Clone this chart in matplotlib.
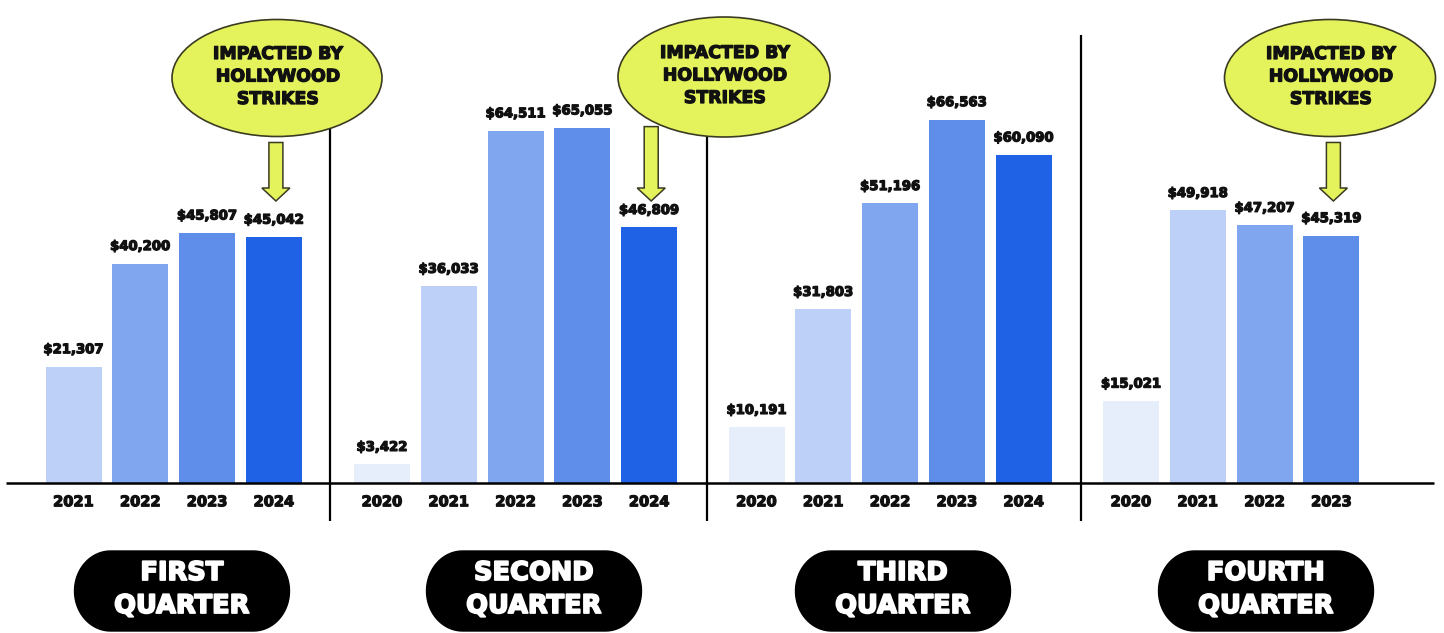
import numpy as np
import matplotlib
matplotlib.use("Agg")
import matplotlib.pyplot as plt
import matplotlib.patheffects as pe
from matplotlib.patches import Ellipse, Polygon

# quarterly box office figures, by year
q1_years = ['2021', '2022', '2023', '2024']
q1_values = [21307, 40200, 45807, 45042]
q2_years = ['2020', '2021', '2022', '2023', '2024']
q2_values = [3422, 36033, 64511, 65055, 46809]
q3_years = ['2020', '2021', '2022', '2023', '2024']
q3_values = [10191, 31803, 51196, 66563, 60090]
q4_years = ['2020', '2021', '2022', '2023']
q4_values = [15021, 49918, 47207, 45319]
quarter_names = ['FIRST\nQUARTER', 'SECOND\nQUARTER', 'THIRD\nQUARTER', 'FOURTH\nQUARTER']
strike_years = ['2024', '2024', None, '2023']
strike_note = ['IMPACTED BY', 'HOLLYWOOD', 'STRIKES']

year_colors = {'2020': '#e6eefc', '2021': '#bcd0f8', '2022': '#80a6ef',
               '2023': '#5e8dea', '2024': '#1f62e6'}

W, H = 1444, 633
BASE = 483          # baseline, px from top
SCALE = 0.00546     # px per dollar
STEP, BAR_W = 66.8, 56
group_x0 = [73.5, 382, 756.5, 1131]
dividers = [330, 707, 1081]
pill_cx = [182, 534, 903, 1266]
bubble = {0: (277, 78, 210, 117), 1: (724, 77, 212, 120), 3: (1330, 78, 211, 117)}
YELLOW = '#e4f35c'
EDGE = '#3b3b22'
FONT = 'DejaVu Sans'
INK = '#111111'


def heavy(w, c):
    # fake a black weight by stroking the glyph outline
    return [pe.withStroke(linewidth=w, foreground=c)]


def stadium(cx, cy, w, h, rx):
    # rectangle with elliptical caps on both ends
    ry = h / 2
    t = np.linspace(-np.pi / 2, np.pi / 2, 40)
    right = np.column_stack([cx + w / 2 - rx + rx * np.cos(t), cy + ry * np.sin(t)])
    left = np.column_stack([cx - w / 2 + rx - rx * np.cos(t), cy - ry * np.sin(t)])
    return np.vstack([right, left])


fig = plt.figure(figsize=(W / 100, H / 100), dpi=100)
fig.patch.set_facecolor('white')

# bars live in dollar space, decorations in pixel space
ax = fig.add_axes([0, 0, 1, 1])
ax.set_xlim(0, W)
ax.set_ylim(-(H - BASE) / SCALE, BASE / SCALE)
ax.axis('off')

ov = fig.add_axes([0, 0, 1, 1], zorder=3)
ov.set_xlim(0, W)
ov.set_ylim(H, 0)
ov.axis('off')
ov.patch.set_alpha(0)

groups = [(q1_years, q1_values), (q2_years, q2_values),
          (q3_years, q3_values), (q4_years, q4_values)]

for g, (years, values) in enumerate(groups):
    xs = group_x0[g] + STEP * np.arange(len(years))
    ax.bar(xs, values, width=BAR_W, color=[year_colors[y] for y in years],
           zorder=2)
    for x, v, y in zip(xs, values, years):
        ax.annotate(f'${v:,}', (x, v), xytext=(0, 7.5), textcoords='offset points',
                    ha='center', va='bottom', fontsize=9.5, fontweight='bold',
                    family=FONT, color=INK, path_effects=heavy(0.9, INK))
        ax.annotate(y, (x, 0), xytext=(0, -13.5), textcoords='offset points',
                    ha='center', va='center', fontsize=10.5, fontweight='bold',
                    family=FONT, color=INK, path_effects=heavy(0.9, INK))

    # quarter pill
    ov.add_patch(Polygon(stadium(pill_cx[g], 591, 215, 80, 36), closed=True,
                         facecolor='black', edgecolor='black', lw=1, zorder=4))
    top, bottom = quarter_names[g].split('\n')
    for ty, word in ((573, top), (606, bottom)):
        ov.text(pill_cx[g], ty, word, ha='center', va='center', color='white',
                fontsize=18.5, fontweight='bold', family=FONT, zorder=5,
                path_effects=heavy(1.3, 'white'))

    # strike callout
    if strike_years[g] is not None:
        cx, cy, ew, eh = bubble[g]
        ov.add_patch(Ellipse((cx, cy), ew, eh, facecolor=YELLOW, edgecolor=EDGE,
                             lw=1.2, zorder=4))
        for k, line in enumerate(strike_note):
            ov.text(cx + 1, cy - 24 + 22.5 * k, line, ha='center', va='center',
                    fontsize=12.5, fontweight='bold', family=FONT,
                    color=INK, zorder=5, path_effects=heavy(0.9, INK))
        ax_x = xs[years.index(strike_years[g])] + 2
        dx = (ax_x - cx) / (ew / 2)
        a_top = cy + eh / 2 * np.sqrt(max(0.0, 1 - dx ** 2)) + 6
        shaft, head, neck, tip = 7, 14, 188, 201
        ov.add_patch(Polygon([(ax_x - shaft, a_top), (ax_x + shaft, a_top),
                              (ax_x + shaft, neck), (ax_x + head, neck),
                              (ax_x, tip), (ax_x - head, neck),
                              (ax_x - shaft, neck)], closed=True,
                             facecolor=YELLOW, edgecolor=EDGE, lw=1.1, zorder=4))

# baseline and quarter dividers
ov.plot([6, 1434], [BASE, BASE], color='black', lw=1.8, zorder=2,
        solid_capstyle='butt')
for dx in dividers:
    ov.plot([dx, dx], [35, 521], color='black', lw=1.6, zorder=2,
            solid_capstyle='butt')

fig.savefig('out.png', dpi=100, facecolor='white')
